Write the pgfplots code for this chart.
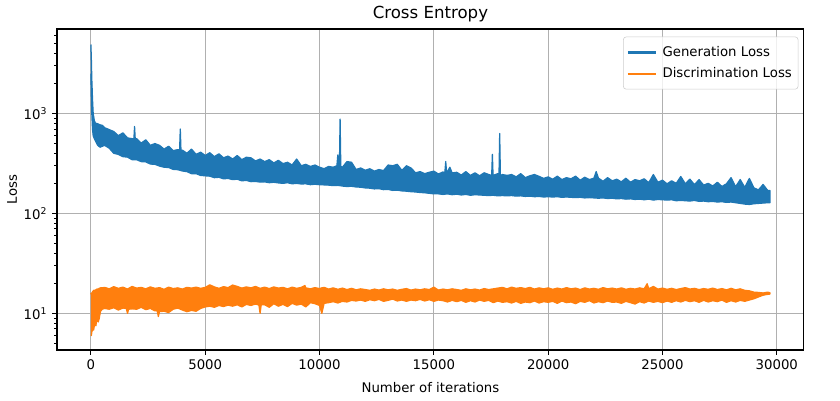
\documentclass[border=0pt]{standalone}
\usepackage{fontspec}
\setmainfont{DejaVu Sans}
\usepackage{pgfplots}
\pgfplotsset{compat=1.18}
\definecolor{mblue}{HTML}{1F77B4}
\definecolor{morange}{HTML}{FF7F0E}
\definecolor{mgrid}{HTML}{B0B0B0}
\begin{document}
\begin{tikzpicture}
\path[use as bounding box] (-41bp,-36bp) rectangle (563.8bp,252bp);
\begin{axis}[
  at={(0,0)}, anchor=south west,
  scale only axis, width=537.8bp, height=231.1bp,
  ymode=log,
  xmin=-1485, xmax=31185,
  ymin=4.3, ymax=7000,
  xtick={0,5000,10000,15000,20000,25000,30000},
  scaled x ticks=false,
  ytick={10,100,1000},
  yticklabels={10\textsuperscript{1},10\textsuperscript{2},10\textsuperscript{3}},
  minor ytick={5,6,7,8,9,20,30,40,50,60,70,80,90,200,300,400,500,600,700,800,900,2000,3000,4000,5000,6000},
  /pgf/number format/assume math mode=true,
  /pgf/number format/1000 sep={},
  tick align=outside, tick pos=left,
  major tick length=3.5bp, minor tick length=2bp,
  every major tick/.style={black, line width=0.8bp},
  every minor tick/.style={black, line width=0.6bp},
  grid=major,
  major grid style={mgrid, line width=0.8bp},
  axis line style={black, line width=0.8bp},
  tick label style={font=\fontsize{9.6}{11.5}\selectfont},
  label style={font=\fontsize{9.6}{11.5}\selectfont},
  title style={font=\fontsize{12}{14}\selectfont, yshift=-4.3bp},
  xlabel style={yshift=-2bp},
  ylabel style={yshift=-2bp},
  title={Cross Entropy},
  xlabel={Number of iterations},
  ylabel={Loss},
  legend style={at={(1,1)}, anchor=north east, xshift=-4bp, yshift=-5.5bp,
    draw=gray!40, rounded corners=2pt, fill=white, fill opacity=0.8, text opacity=1,
    font=\fontsize{9.6}{11.5}\selectfont, row sep=2.5bp, inner xsep=2.5bp, inner ysep=4.8bp},
  legend cell align=left,
  no markers,
]
% Generation loss: upper edge left to right, then lower edge right to left
\addplot[draw=mblue, fill=mblue, line width=0.9bp, line join=round,
  legend image code/.code={\draw[mblue, line width=1.5bp] (0bp,0bp) -- (20bp,0bp); \path (22.5bp,0bp);}] table {
x y
0 4900
20 3500
40 2200
70 1400
100 1000
150 850
200 800
300 790
400 770
500 760
600 720
800 690
1000 660
1200 600
1400 640
1600 570
1800 560
1880 555
1910 740
1940 550
2000 560
2200 505
2400 545
2600 480
2800 500
3000 480
3200 440
3400 470
3600 425
3800 435
3880 430
3910 700
3940 425
4000 430
4200 400
4400 440
4600 390
4800 410
5000 380
5200 405
5400 370
5600 395
5800 360
6000 375
6200 350
6400 380
6600 345
6800 365
7000 360
7200 335
7400 350
7600 330
7800 345
8000 320
8200 340
8400 315
8600 325
8800 305
9000 350
9200 300
9400 310
9600 295
9800 305
10000 290
10200 280
10400 295
10600 290
10760 300
10800 385
10840 295
10870 300
10900 880
10930 295
11000 290
11200 330
11400 325
11600 275
11800 285
12000 270
12200 280
12400 265
12600 275
12800 268
13000 305
13200 300
13400 310
13600 270
13800 300
14000 285
14200 255
14400 262
14600 250
14800 258
15000 265
15200 248
15400 260
15480 255
15520 330
15560 252
15700 290
15800 254
16000 258
16200 242
16400 262
16600 240
16800 255
17000 238
17200 255
17400 245
17530 240
17560 390
17590 240
17800 250
17850 245
17880 630
17910 240
18000 245
18200 240
18400 245
18600 232
18800 250
19000 228
19200 238
19400 245
19600 235
19800 224
20000 232
20200 220
20400 236
20600 218
20800 228
21000 222
21200 236
21400 215
21600 230
21800 218
22000 225
22100 262
22200 225
22400 210
22600 228
22800 212
23000 220
23200 207
23400 225
23600 205
23800 218
24000 212
24200 222
24400 203
24600 245
24800 205
25000 215
25200 198
25400 212
25600 200
25800 234
26000 198
26200 220
26400 194
26600 218
26800 192
27000 200
27200 188
27400 205
27600 186
27800 198
28000 228
28200 185
28400 218
28600 182
28800 224
29000 180
29200 172
29400 195
29600 170
29700 170
29700 128
29600 128
29400 127
29200 126
29000 125
28800 123
28600 124
28400 126
28200 128
28000 130
27800 129
27600 131
27400 130
27200 132
27000 131
26800 133
26600 132
26400 135
26200 133
26000 134
25800 135
25600 134
25400 137
25200 136
25000 137
24800 138
24600 136
24400 139
24200 137
24000 139
23800 138
23600 140
23400 139
23200 141
23000 140
22800 142
22600 141
22400 143
22200 142
22000 143
21800 144
21600 143
21400 145
21200 144
21000 145
20800 146
20600 145
20400 147
20200 146
20000 147
19800 146
19600 148
19400 147
19200 149
19000 148
18800 150
18600 149
18400 151
18200 150
18000 151
17800 150
17600 152
17400 151
17200 152
17000 153
16800 154
16600 152
16400 155
16200 153
16000 156
15800 154
15600 157
15400 155
15200 157
15000 157
14800 159
14600 161
14400 162
14200 164
14000 165
13800 167
13600 168
13400 171
13200 170
13000 174
12800 173
12600 177
12400 176
12200 179
12000 180
11800 183
11600 184
11400 187
11200 186
11000 188
10800 191
10600 190
10400 192
10200 193
10000 194
9800 196
9600 194
9400 198
9200 197
9000 200
8800 198
8600 203
8400 200
8200 202
8000 205
7800 203
7600 207
7400 206
7200 209
7000 208
6800 214
6600 212
6400 220
6200 218
6000 224
5800 222
5600 230
5400 228
5200 236
5000 238
4800 240
4600 250
4400 250
4200 262
4000 266
3800 274
3600 276
3400 288
3200 290
3000 298
2800 310
2600 312
2400 328
2200 330
2000 345
1800 345
1600 366
1400 370
1200 390
1000 400
800 450
600 480
400 460
300 480
200 530
150 560
100 600
70 700
40 1000
20 1500
0 2500
};
\addlegendentry{Generation Loss}
% Discrimination loss: upper edge left to right, then lower edge right to left
\addplot[draw=morange, fill=morange, line width=0.9bp, line join=round,
  legend image code/.code={\draw[morange, line width=1.5bp] (0bp,0bp) -- (20bp,0bp); \path (22.5bp,0bp);}] table {
x y
0 16
20 15.5
40 16
80 16.5
120 17
170 17
220 17.2
260 17.5
320 17.5
360 17.8
420 18
500 18
600 18.2
800 17.6
1000 18.5
1200 17.8
1400 18.3
1600 17.5
1800 18.6
2000 17.9
2200 18.2
2400 17.6
2600 18.4
2800 17.8
2950 18.0
3000 18.1
3200 17.4
3400 18.3
3600 17.7
3800 18.0
4000 17.5
4200 18.2
4400 17.9
4600 18.3
4800 17.8
5000 18.2
5200 19.3
5400 18.4
5600 17.8
5800 18.5
6000 18.1
6200 19.2
6400 18.6
6600 17.9
6800 18.4
7000 18.0
7200 18.6
7400 17.8
7600 18.3
7800 17.7
8000 18.4
8200 17.9
8400 18.2
8600 17.6
8800 18.3
9000 17.8
9200 18.2
9360 19.0
9400 18.0
9600 17.6
9800 18.1
10000 17.7
10100 18.0
10200 18.2
10400 17.5
10600 18.0
10800 17.4
11000 17.9
11200 17.3
11400 17.8
11600 17.2
11800 17.6
12000 17.3
12200 17.0
12400 17.5
12600 17.1
12800 17.6
13000 17.2
13200 17.5
13400 17.0
13600 17.4
13800 17.7
14000 17.1
14200 17.5
14400 17.2
14600 17.6
14800 17.3
15000 18.3
15200 17.1
15400 17.5
15600 17.2
15800 17.6
16000 17.3
16200 17.0
16400 17.6
16600 17.2
16800 17.5
17000 17.1
17200 17.7
17400 17.3
17600 17.6
17800 17.9
18000 18.2
18200 17.6
18400 18.3
18600 17.8
18800 18.1
19000 17.7
19200 18.2
19400 17.5
19600 18.0
19800 17.6
20000 18.0
20200 17.4
20400 17.9
20600 17.5
20800 18.1
21000 17.6
21200 17.9
21400 17.3
21600 18.0
21800 17.5
22000 17.8
22200 17.4
22400 18.1
22600 17.6
22800 17.9
23000 17.5
23200 18.0
23400 17.4
23600 17.8
23800 17.5
24000 18.0
24200 17.6
24330 19.8
24400 17.6
24600 18.6
24800 17.5
25000 17.9
25200 17.4
25400 17.8
25600 17.3
25800 17.7
26000 18.1
26200 17.5
26400 17.8
26600 17.3
26800 17.7
27000 17.4
27200 17.9
27400 17.3
27600 17.7
27800 17.2
28000 17.8
28200 17.2
28400 17.6
28600 17.0
28800 16.8
29000 16.3
29200 16.2
29400 16.0
29600 16.3
29700 16.1
29700 15.6
29600 15.5
29400 15.2
29200 14.6
29000 14.0
28800 13.6
28600 13.2
28400 13.5
28200 13.0
28000 13.4
27800 12.9
27600 13.6
27400 13.1
27200 13.4
27000 13.0
26800 13.5
26600 12.9
26400 13.4
26200 13.1
26000 13.5
25800 13.0
25600 13.4
25400 12.9
25200 13.3
25000 12.8
24800 13.2
24600 12.9
24400 13.3
24200 12.7
24000 13.1
23800 12.4
23600 12.8
23400 13.2
23200 12.6
23000 13.0
22800 12.9
22600 13.3
22400 12.8
22200 13.1
22000 12.7
21800 13.4
21600 12.9
21400 13.2
21200 12.5
21000 13.0
20800 12.8
20600 13.3
20400 12.6
20200 13.2
20000 12.9
19800 13.1
19600 12.7
19400 13.3
19200 12.8
19000 13.0
18800 12.6
18600 13.2
18400 12.7
18200 13.1
18000 12.9
17800 13.3
17600 12.8
17400 13.5
17200 13.2
17000 13.6
16800 13.0
16600 13.4
16400 12.9
16200 13.5
16000 13.1
15800 13.5
15600 13.0
15400 13.4
15200 13.6
15000 13.2
14800 13.7
14600 13.3
14400 13.8
14200 13.4
14000 13.6
13800 13.2
13600 13.6
13400 13.3
13200 13.9
13000 13.5
12800 13.2
12600 13.8
12400 13.4
12200 13.7
12000 13.2
11800 13.6
11600 13.3
11400 13.5
11200 13.0
11000 13.2
10800 12.7
10600 13.1
10400 12.8
10200 12.6
10100 10.0
10000 12.0
9800 12.5
9600 12.8
9400 11.6
9200 12.4
9000 12.1
8800 12.6
8600 11.7
8400 12.3
8200 11.8
8000 12.5
7800 11.5
7600 12.2
7450 12.2
7400 10.0
7350 12.1
7200 12.4
7000 12.0
6800 12.3
6600 11.6
6400 12.2
6200 11.8
6000 12.1
5800 11.7
5600 12.0
5400 11.5
5200 11.8
5000 11.6
4800 11.2
4600 10.5
4400 10.7
4200 10.4
4000 10.8
3800 11.3
3600 11.0
3400 10.2
3200 10.5
3000 10.4
2950 9.3
2900 10.6
2800 10.6
2600 11.2
2400 10.9
2200 11.5
2000 11.0
1800 11.1
1650 11.0
1600 10.0
1550 11.2
1400 11.3
1200 10.8
1000 11.4
800 11.0
600 11.2
500 11.0
420 10.5
360 8.8
320 8.2
260 9.0
220 7.5
170 8.0
120 6.8
80 7.0
40 6.5
20 6.0
0 6.0
};
\addlegendentry{Discrimination Loss}
\end{axis}
\end{tikzpicture}
\end{document}
